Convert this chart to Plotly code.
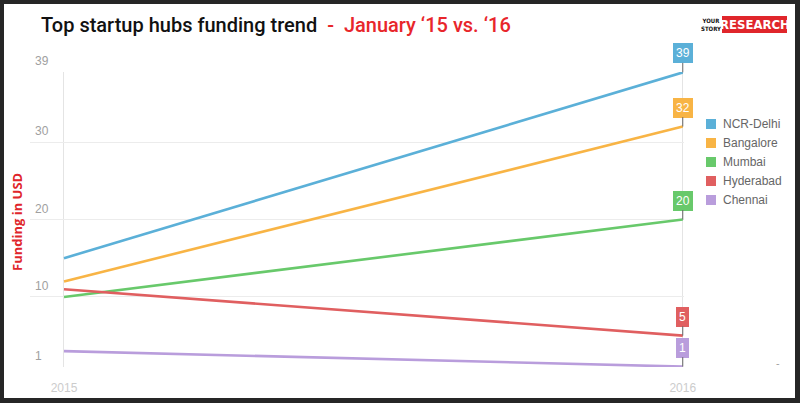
import plotly.graph_objects as go

years = [2015, 2016]
year_labels = ["2015", "2016"]
cities = ["NCR-Delhi", "Bangalore", "Mumbai", "Hyderabad", "Chennai"]
funding_2015 = [15, 12, 10, 11, 3]
funding_2016 = [39, 32, 20, 5, 1]
colors = ["#5bb0d8", "#f8b445", "#68c96b", "#e05f60", "#b99ddc"]
y_ticks = [1, 10, 20, 30, 39]

W, H = 800, 403
L, R, T, B = 30, 116, 72, 36
PW, PH = W - L - R, H - T - B


def px(x):
    return (x - L) / PW


def py(y):
    return (H - B - y) / PH


fig = go.Figure()
for name, a, b, c in zip(cities, funding_2015, funding_2016, colors):
    fig.add_trace(go.Scatter(
        x=years, y=[a, b], mode="lines", name=name,
        line=dict(color=c, width=2.6), showlegend=False,
        hoverinfo="skip", cliponaxis=False))

annotations = []
shapes = []
# frame
shapes.append(dict(type="rect", xref="paper", yref="paper", layer="below",
                   x0=px(4), x1=px(795), y0=py(398), y1=py(4),
                   fillcolor="white", line=dict(width=0)))

# y tick labels (inside, above gridlines)
for t in y_ticks:
    annotations.append(dict(x=px(33), y=t, xref="paper", yref="y",
                            text=str(t), showarrow=False, xanchor="left",
                            yanchor="bottom", yshift=2,
                            font=dict(color="#a0a0a0", size=12,
                                      family="Liberation Sans")))

# value labels at 2016
for name, b, c in zip(cities, funding_2016, colors):
    annotations.append(dict(
        x=years[1], y=b, xref="x", yref="y", text=str(b),
        showarrow=True, ax=0, ay=-19, arrowhead=0, arrowwidth=1,
        arrowcolor="#666", bgcolor=c, bordercolor=c, borderpad=2,
        xanchor="center", yanchor="middle",
        font=dict(color="white", size=12, family="Liberation Sans")))

# manual legend
for i, (name, c) in enumerate(zip(cities, colors)):
    yc = 124 + i * 19
    shapes.append(dict(type="rect", xref="paper", yref="paper",
                       x0=px(706), x1=px(716), y0=py(yc + 5), y1=py(yc - 5),
                       fillcolor=c, line=dict(width=0)))
    annotations.append(dict(x=px(721), y=py(yc), xref="paper", yref="paper",
                            text=name, showarrow=False, xanchor="left",
                            yanchor="middle",
                            font=dict(color="#666", size=12,
                                      family="Liberation Sans")))

# title
annotations.append(dict(
    x=px(39), y=py(25), xref="paper", yref="paper", xanchor="left",
    yanchor="middle", showarrow=False,
    text="Top startup hubs funding trend  <span style='color:#e8262b'>-  January ‘15 vs. ‘16</span>",
    font=dict(color="#111", size=20, family="Roboto", weight=500)))

# logo
shapes.append(dict(type="rect", xref="paper", yref="paper",
                   x0=px(722), x1=px(787), y0=py(33), y1=py(16),
                   fillcolor="#e0262b", line=dict(width=0)))
annotations.append(dict(x=px(754.5), y=py(24.5), xref="paper", yref="paper",
                        text="<b>RESEARCH</b>", showarrow=False,
                        xanchor="center", yanchor="middle",
                        font=dict(color="white", size=13,
                                  family="DejaVu Sans Condensed, Roboto")))
annotations.append(dict(x=px(710.5), y=py(24.5), xref="paper", yref="paper",
                        text="<b>YOUR<br>STORY</b>", showarrow=False,
                        xanchor="center", yanchor="middle",
                        font=dict(color="#111", size=6,
                                  family="DejaVu Sans Condensed, Roboto")))

# y axis title
annotations.append(dict(x=px(17), y=py(222), xref="paper", yref="paper",
                        text="<b>Funding in USD</b>", textangle=-90,
                        showarrow=False, xanchor="center", yanchor="middle",
                        font=dict(color="#e0262b", size=13,
                                  family="Open Sans")))
annotations.append(dict(x=px(778), y=py(362), xref="paper", yref="paper",
                        text="-", showarrow=False,
                        xanchor="center", yanchor="middle",
                        font=dict(color="#999", size=11)))

fig.update_layout(
    width=W, height=H, autosize=False,
    margin=dict(l=L, r=R, t=T, b=B, pad=0),
    paper_bgcolor="#262626",
    plot_bgcolor="rgba(0,0,0,0)",
    showlegend=False,
    annotations=annotations,
    shapes=shapes,
    xaxis=dict(range=[2015 - 34 / 619, 2016.002], tickvals=years,
               ticktext=year_labels, showgrid=True, gridcolor="#e4e4e4",
               zeroline=False, showline=False, ticks="", automargin=False,
               ticklabelstandoff=12,
               tickfont=dict(color="#cccccc", size=12,
                             family="Liberation Sans")),
    yaxis=dict(range=[0.95, 39.05], tickvals=y_ticks, showgrid=True,
               gridcolor="#ececec", zeroline=False, showline=False,
               ticks="", showticklabels=False, automargin=False),
)

fig.write_html("out.html")
